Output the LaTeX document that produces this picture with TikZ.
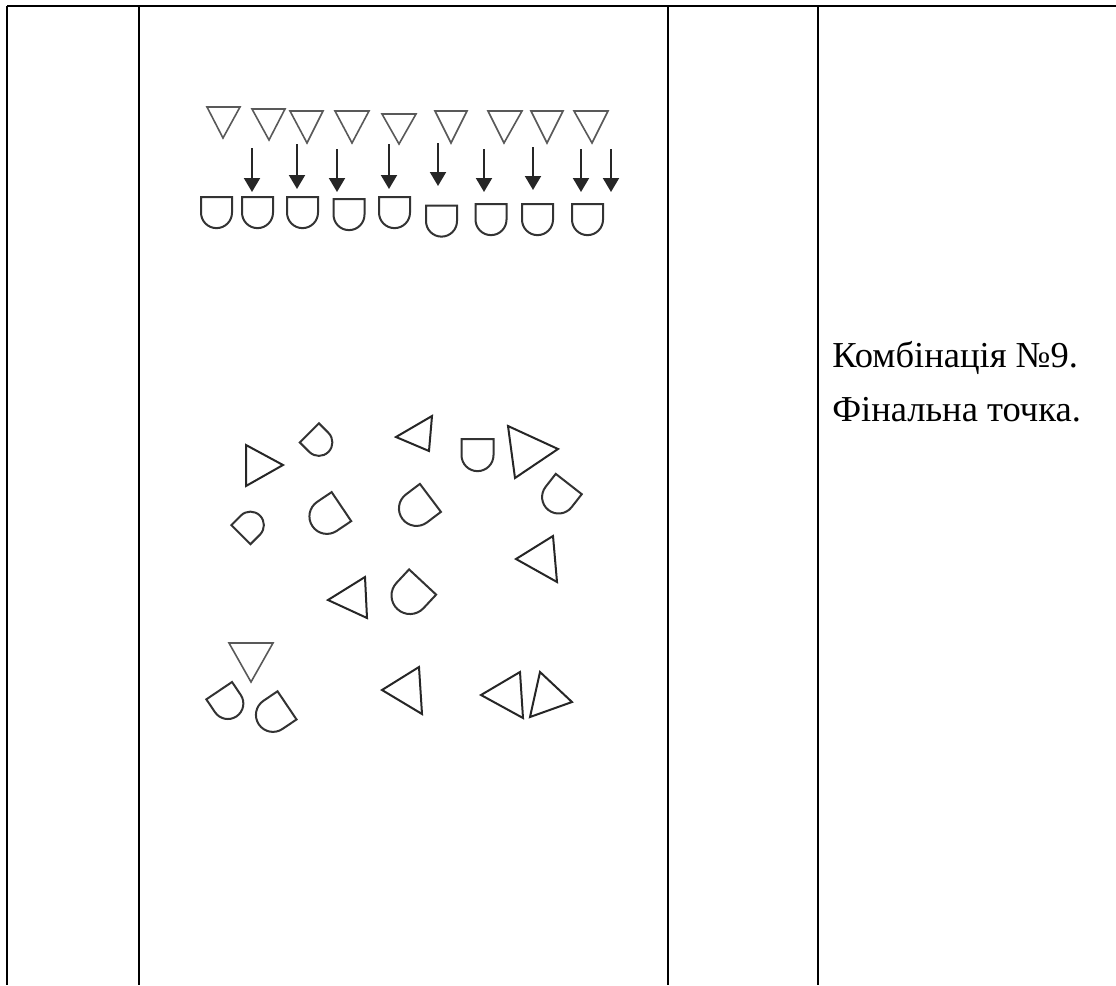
\documentclass[tikz,border=0pt]{standalone}
\usepackage{fontspec}
\setmainfont{Liberation Serif}
\usetikzlibrary{arrows.meta}
\tikzset{
 rule/.style={line width=1.6pt, draw=black},
 tri/.style={line width=1.2pt, draw=black!65, line join=miter},
 bigtri/.style={line width=1.5pt, draw=black!85, line join=miter},
 dsh/.style={line width=1.5pt, draw=black!80},
 arr/.style={line width=1.5pt, draw=black!85, -{Triangle[width=12pt,length=10.5pt]}},
 lbl/.style={anchor=base west, inner sep=0pt, font=\fontsize{27.4}{32}\selectfont}
}
\newcommand{\dshape}[4]{\draw[dsh, shift={(#1,#2)}, rotate=#3, scale=#4] (-0.5,-0.48) -- (0.5,-0.48) -- (0.5,0.02) arc[start angle=0, end angle=180, radius=0.5] -- cycle;}
\begin{document}
\begin{tikzpicture}[x=0.75pt,y=-0.75pt]
\useasboundingbox (0,0) rectangle (1116,985);
% table rules
\coordinate (tl) at (7,6);
\coordinate (tr) at (1116,6);
\draw[rule] (tl) -- (tr);
\foreach \i/\x in {a/7,b/139,c/668,d/818}{
  \coordinate (v\i t) at (\x,6);
  \coordinate (v\i b) at (\x,985);
  \draw[rule] (v\i t) -- (v\i b);
}
% top row triangles
\draw[tri] (207,107) -- (240,107) -- (223,138) -- cycle;
\draw[tri] (252,109) -- (285,109) -- (269,140) -- cycle;
\draw[tri] (290,111) -- (323,111) -- (307,143) -- cycle;
\draw[tri] (335,111) -- (369,111) -- (352,143) -- cycle;
\draw[tri] (382,114) -- (416,114) -- (399,144) -- cycle;
\draw[tri] (435,111) -- (467,111) -- (451,143) -- cycle;
\draw[tri] (488,111) -- (522,111) -- (504,143) -- cycle;
\draw[tri] (531,111) -- (563,111) -- (547,143) -- cycle;
\draw[tri] (574,111) -- (608,111) -- (592,143) -- cycle;
% arrows
\foreach \n/\x/\ya/\yb in {1/252/148/192,2/297/144/189,3/337/149/192,4/389/144/189,5/438/143/186,6/484/149/192,7/533/147/190,8/581/149/192,9/611/149/192}{
  \coordinate (as\n) at (\x,\ya);
  \coordinate (ae\n) at (\x,\yb);
  \draw[arr] (as\n) -- (ae\n);
}
% top row D shapes
\dshape{216.5}{212}{0}{31}
\dshape{257.5}{212}{0}{31}
\dshape{302.5}{212}{0}{31}
\dshape{349}{214}{0}{31}
\dshape{394.5}{212}{0}{31}
\dshape{441.5}{220.5}{0}{31}
\dshape{491}{219}{0}{31}
\dshape{537.5}{219}{0}{31}
\dshape{587.5}{219}{0}{31}
% scattered triangles
\draw[bigtri] (246,445) -- (246,486) -- (283,465) -- cycle;
\draw[bigtri] (396,437) -- (432,416) -- (429,451) -- cycle;
\draw[bigtri] (508,426) -- (515,478) -- (558,449) -- cycle;
\draw[bigtri] (516,559) -- (553,536) -- (557,582) -- cycle;
\draw[bigtri] (328,600) -- (365,577) -- (367,618) -- cycle;
\draw[tri] (229,643) -- (273,643) -- (251,682) -- cycle;
\draw[bigtri] (382,690) -- (419,667) -- (422,714) -- cycle;
\draw[bigtri] (481,695) -- (520,672) -- (523,718) -- cycle;
\draw[bigtri] (530,717) -- (540,672) -- (572,702) -- cycle;
% scattered D shapes
\dshape{318.5}{442}{45}{27}
\dshape{477.5}{454.5}{0}{32}
\dshape{559}{496.5}{-38}{33}
\dshape{250}{525.5}{135}{27}
\dshape{327.5}{516}{-56}{35}
\dshape{417}{508}{-53}{35}
\dshape{410.5}{595}{-43}{37}
\dshape{227.5}{703}{34}{31}
\dshape{273.5}{714.5}{-56}{34}
% text
\node[lbl] (t1) at (832,367) {Комбінація №9.};
\node[lbl] (t2) at (832,421) {Фінальна точка.};
\end{tikzpicture}
\end{document}
